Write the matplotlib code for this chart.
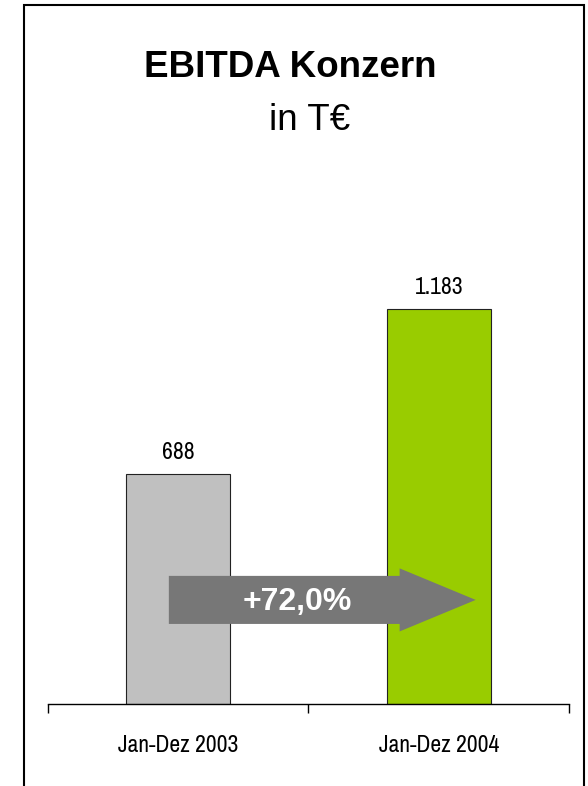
import matplotlib
matplotlib.use('Agg')
import matplotlib.pyplot as plt
from matplotlib import patches

# Data
categories = ['Jan-Dez 2003', 'Jan-Dez 2004']
values = [688, 1183]
bar_colors = ['#C0C0C0', '#99CC00']
growth_label = '+72,0%'

title = 'EBITDA Konzern'
subtitle = 'in T€'

NARROW = ['Archivo Narrow', 'Liberation Sans', 'DejaVu Sans']
plt.rcParams['font.family'] = ['Liberation Sans', 'DejaVu Sans']


def de_fmt(v):
    return f"{v:,}".replace(',', '.')


def main():
    fig = plt.figure(figsize=(5.88, 7.86), dpi=100)
    ax = fig.add_axes([0.0816, 0.1043, 0.886, 0.692])

    x = list(range(len(categories)))
    ax.bar(x, values, width=0.4, color=bar_colors, edgecolor='#222222',
           linewidth=0.8, zorder=2)

    # value labels
    for xi, v in zip(x, values):
        ax.annotate(de_fmt(v), (xi, v), xytext=(0, 11), textcoords='offset points',
                    ha='center', va='baseline', fontsize=17, family=NARROW)

    ax.set_xlim(-0.5, 1.5)
    ax.set_ylim(0, 1630)

    # axis
    for s in ['top', 'left', 'right']:
        ax.spines[s].set_visible(False)
    ax.spines['bottom'].set_linewidth(1.0)
    ax.set_yticks([])
    ax.set_xticks(x)
    ax.set_xticklabels(categories, fontsize=17, family=NARROW)
    ax.tick_params(axis='x', which='major', length=0, pad=22)
    ax.set_xticks([-0.5, 0.5, 1.5], minor=True)
    ax.tick_params(axis='x', which='minor', length=6.5, width=1.0, direction='out')

    # growth arrow
    arrow = patches.FancyArrow(-0.036, 312, 1.178, 0, width=144, head_width=189,
                               head_length=0.292, length_includes_head=True,
                               color='#777777', linewidth=0, zorder=3)
    ax.add_patch(arrow)
    ax.text(0.458, 306, growth_label, ha='center', va='center',
            color='white', fontsize=23, fontweight='bold', zorder=4)

    # titles
    fig.text(0.493, 0.902, title, ha='center', va='baseline', fontsize=26.5,
             fontweight='bold')
    fig.text(0.526, 0.8346, subtitle, ha='center', va='baseline', fontsize=26.5)

    # frame
    frame = patches.Rectangle((0.0408, -0.02), 0.952, 1.0136, transform=fig.transFigure,
                              fill=False, edgecolor='black', linewidth=1.5, clip_on=False)
    fig.patches.append(frame)

    fig.savefig('out.png', dpi=100)


if __name__ == '__main__':
    main()
